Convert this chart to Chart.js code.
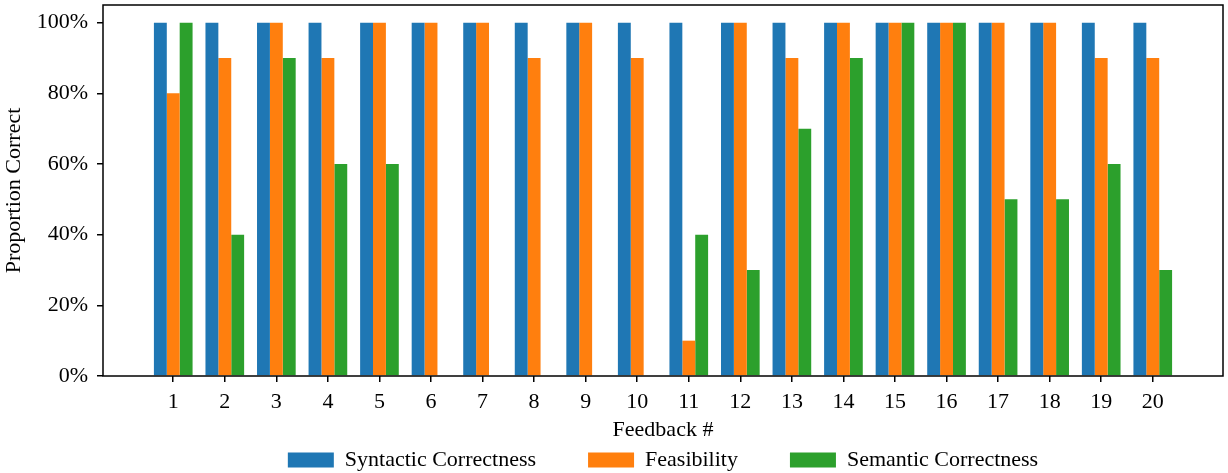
<!DOCTYPE html>
<html lang="en">
<head>
    <meta charset="UTF-8">
    <title>Proportion Correct by Feedback</title>
    <script src="https://cdn.jsdelivr.net/npm/chart.js"></script>
    <style>
        body { margin: 0; background: #fff; }
        #wrap { width: 1228px; height: 473px; }
    </style>
</head>
<body>
    <div id="wrap"><canvas id="feedbackChart" width="1228" height="473"></canvas></div>

    <script>
        // Feedback numbers on the x axis
        const feedbackIds = [1, 2, 3, 4, 5, 6, 7, 8, 9, 10, 11, 12, 13, 14, 15, 16, 17, 18, 19, 20];

        // Values in percent
        const syntactic = [100, 100, 100, 100, 100, 100, 100, 100, 100, 100, 100, 100, 100, 100, 100, 100, 100, 100, 100, 100];
        const feasibility = [80, 90, 100, 90, 100, 100, 100, 90, 100, 90, 10, 100, 90, 100, 100, 100, 100, 100, 90, 90];
        const semantic = [100, 40, 90, 60, 60, 0, 0, 0, 0, 0, 40, 30, 70, 90, 100, 100, 50, 50, 60, 30];

        const yTicks = [0, 20, 40, 60, 80, 100];

        const seriesNames = ['Syntactic Correctness', 'Feasibility', 'Semantic Correctness'];
        const seriesColors = ['#1f77b4', '#ff7f0e', '#2ca02c'];

        const serif = "'Liberation Serif', 'DejaVu Serif', serif";

        function toPoints(values) {
            return values.map((v, i) => ({ x: feedbackIds[i], y: v }));
        }

        // box around the plot area, like matplotlib spines
        const frame = {
            id: 'frame',
            afterLayout(chart) {
                // let the x labels and title run down over the legend strip
                chart.scales.x.bottom = chart.height;
            },
            afterDatasetsDraw(chart) {
                const a = chart.chartArea;
                const ctx = chart.ctx;
                ctx.save();
                ctx.strokeStyle = '#000';
                ctx.lineWidth = 1.5;
                ctx.strokeRect(a.left, a.top, a.right - a.left, a.bottom - a.top);
                ctx.restore();
            }
        };

        const ctx = document.getElementById('feedbackChart').getContext('2d');
        new Chart(ctx, {
            type: 'bar',
            data: {
                datasets: [syntactic, feasibility, semantic].map((vals, i) => ({
                    label: seriesNames[i],
                    data: toPoints(vals),
                    backgroundColor: seriesColors[i],
                    borderWidth: 0,
                    categoryPercentage: 0.75,
                    barPercentage: 1.0
                }))
            },
            options: {
                responsive: false,
                animation: false,
                layout: { padding: { top: 5, right: 5, left: 0, bottom: -8 } },
                plugins: {
                    tooltip: { enabled: false },
                    legend: {
                        position: 'bottom',
                        fullSize: false,
                        labels: {
                            boxWidth: 46,
                            boxHeight: 15,
                            padding: 52,
                            color: '#000',
                            font: { family: serif, size: 22 }
                        }
                    }
                },
                scales: {
                    x: {
                        type: 'linear',
                        offset: false,
                        min: 1 - 0.375 - 0.9875,
                        max: 20 + 0.375 + 0.9875,
                        afterBuildTicks: s => { s.ticks = feedbackIds.map(v => ({ value: v })); },
                        afterFit: s => { s.height = 21; s.paddingLeft = 0; s.paddingRight = 0; },
                        ticks: {
                            color: '#000',
                            padding: 7,
                            maxRotation: 0,
                            font: { family: serif, size: 22 },
                            callback: v => String(v)
                        },
                        grid: { offset: false, drawOnChartArea: false, color: '#000', lineWidth: 1.5, tickLength: 6 },
                        border: { display: false },
                        title: {
                            display: true,
                            text: 'Feedback #',
                            color: '#000',
                            padding: { top: 0, bottom: 30 },
                            font: { family: serif, size: 22 }
                        }
                    },
                    y: {
                        min: 0,
                        max: 105,
                        afterBuildTicks: s => { s.ticks = yTicks.map(v => ({ value: v })); },
                        afterFit: s => { s.width = 103; s.paddingTop = 0; s.paddingBottom = 0; },
                        ticks: {
                            color: '#000',
                            padding: 9,
                            font: { family: serif, size: 22 },
                            callback: v => v + '%'
                        },
                        grid: { drawOnChartArea: false, color: '#000', lineWidth: 1.5, tickLength: 6 },
                        border: { display: false },
                        title: {
                            display: true,
                            text: 'Proportion Correct',
                            color: '#000',
                            padding: { top: 1, bottom: 0 },
                            font: { family: serif, size: 22 }
                        }
                    }
                }
            },
            plugins: [frame]
        });
    </script>
</body>
</html>
